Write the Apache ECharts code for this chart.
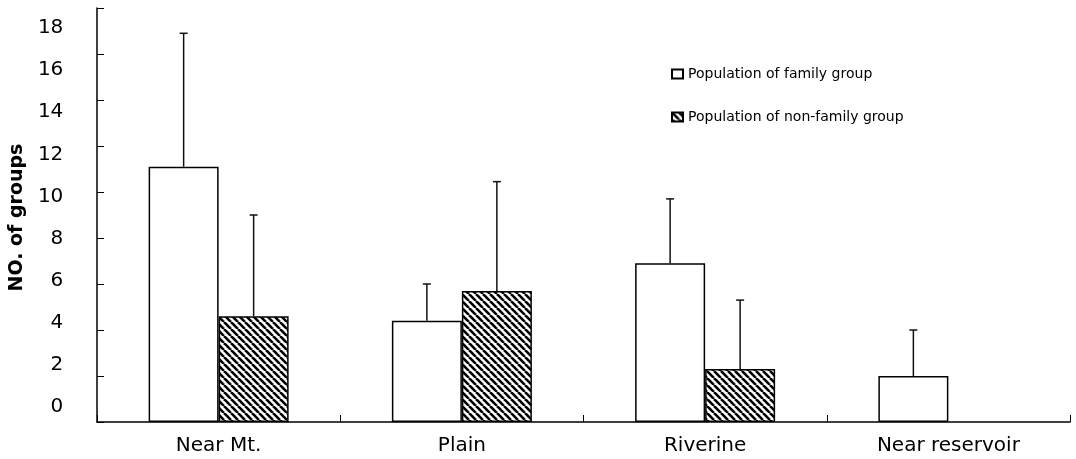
<!DOCTYPE html>
<html>
<head>
<meta charset="utf-8">
<script src="https://cdn.jsdelivr.net/npm/echarts@6/dist/echarts.min.js"></script>
<style>
  html, body { margin: 0; padding: 0; background: #fff; }
  #chart { width: 1076px; height: 459px; }
</style>
</head>
<body>
<div id="chart"></div>
<script>
const categories = ['Near Mt.', 'Plain', 'Riverine', 'Near reservoir']
const seriesNames = ['Population of family group', 'Population of non-family group']
const familyMean = [11.1, 4.4, 6.9, 2.0]
const familyUpper = [16.9, 6.0, 9.7, 4.0]
const nonFamilyMean = [4.6, 5.7, 2.3, 0]
const nonFamilyUpper = [9.0, 10.45, 5.3, null]
const yTicks = [0, 2, 4, 6, 8, 10, 12, 14, 16, 18]

const FONT = 'DejaVu Sans'
const BAR_W = 70

// diagonal hatch for the non-family bars
function hatch() {
  const s = 7
  const c = document.createElement('canvas')
  c.width = s
  c.height = s
  const ctx = c.getContext('2d')
  ctx.fillStyle = '#fff'
  ctx.fillRect(0, 0, s, s)
  ctx.strokeStyle = '#000'
  ctx.lineWidth = 2.6
  for (const k of [-s, 0, s]) {
    ctx.beginPath()
    ctx.moveTo(k, 0)
    ctx.lineTo(k + s, s)
    ctx.stroke()
  }
  return { image: c, repeat: 'repeat' }
}

function errorSeries(mean, upper, offset) {
  return {
    type: 'custom',
    name: 'err',
    z: 5,
    data: mean.map((m, i) => [i, m, upper[i]]).filter((d) => d[2] != null),
    renderItem: (params, api) => {
      const lo = api.coord([api.value(0), api.value(1)])
      const hi = api.coord([api.value(0), api.value(2)])
      const x = lo[0] + offset
      const style = { stroke: '#111', lineWidth: 1.5 }
      return {
        type: 'group',
        children: [
          { type: 'line', shape: { x1: x, y1: lo[1], x2: x, y2: hi[1] }, style },
          { type: 'line', shape: { x1: x - 4, y1: hi[1], x2: x + 4, y2: hi[1] }, style },
        ],
      }
    },
  }
}

const chart = echarts.init(document.getElementById('chart'))
chart.setOption({
  animation: false,
  backgroundColor: '#fff',
  grid: [
    { left: 97, right: 6, top: 8, bottom: 37 },
    // labels sit on their own, slightly compressed scale like the scanned figure
    { left: 97, right: 6, top: 28, bottom: 52 },
  ],
  legend: {
    data: seriesNames,
    orient: 'vertical',
    left: 666,
    top: 62,
    itemGap: 29,
    itemWidth: 11,
    itemHeight: 9,
    icon: 'rect',
    textStyle: { fontFamily: FONT, fontSize: 14, color: '#000' },
  },
  xAxis: [
    {
      type: 'category',
      data: categories,
      axisLine: { lineStyle: { color: '#000', width: 1.5 } },
      axisTick: { show: true, inside: true, length: 7, lineStyle: { color: '#000' } },
      axisLabel: { fontFamily: FONT, fontSize: 20, color: '#000', margin: 14 },
    },
    { gridIndex: 1, type: 'category', data: categories, show: false },
  ],
  yAxis: [
    {
      type: 'value',
      min: yTicks[0],
      max: yTicks[yTicks.length - 1],
      interval: 2,
      axisLine: { show: true, lineStyle: { color: '#000', width: 1.5 } },
      axisTick: { show: true, inside: true, length: 7, lineStyle: { color: '#000' } },
      axisLabel: { show: false },
      splitLine: { show: false },
    },
    {
      gridIndex: 1,
      type: 'value',
      min: yTicks[0],
      max: yTicks[yTicks.length - 1],
      interval: 2,
      name: 'NO. of groups',
      nameLocation: 'middle',
      nameGap: 64,
      nameTextStyle: { fontFamily: FONT, fontSize: 19, fontWeight: 'bold', color: '#000' },
      axisLine: { show: false },
      axisTick: { show: false },
      splitLine: { show: false },
      axisLabel: { fontFamily: FONT, fontSize: 20, color: '#000', margin: 35 },
    },
  ],
  series: [
    {
      name: seriesNames[0],
      type: 'bar',
      data: familyMean,
      barWidth: BAR_W,
      barGap: '0%',
      itemStyle: { color: '#fff', borderColor: '#000', borderWidth: 1.5 },
    },
    {
      name: seriesNames[1],
      type: 'bar',
      data: nonFamilyMean.map((v) => (v > 0 ? v : null)),
      barWidth: BAR_W,
      barGap: '0%',
      itemStyle: { color: hatch(), borderColor: '#000', borderWidth: 1.5 },
    },
    errorSeries(familyMean, familyUpper, -BAR_W / 2),
    errorSeries(nonFamilyMean, nonFamilyUpper, BAR_W / 2),
  ],
})
</script>
</body>
</html>
